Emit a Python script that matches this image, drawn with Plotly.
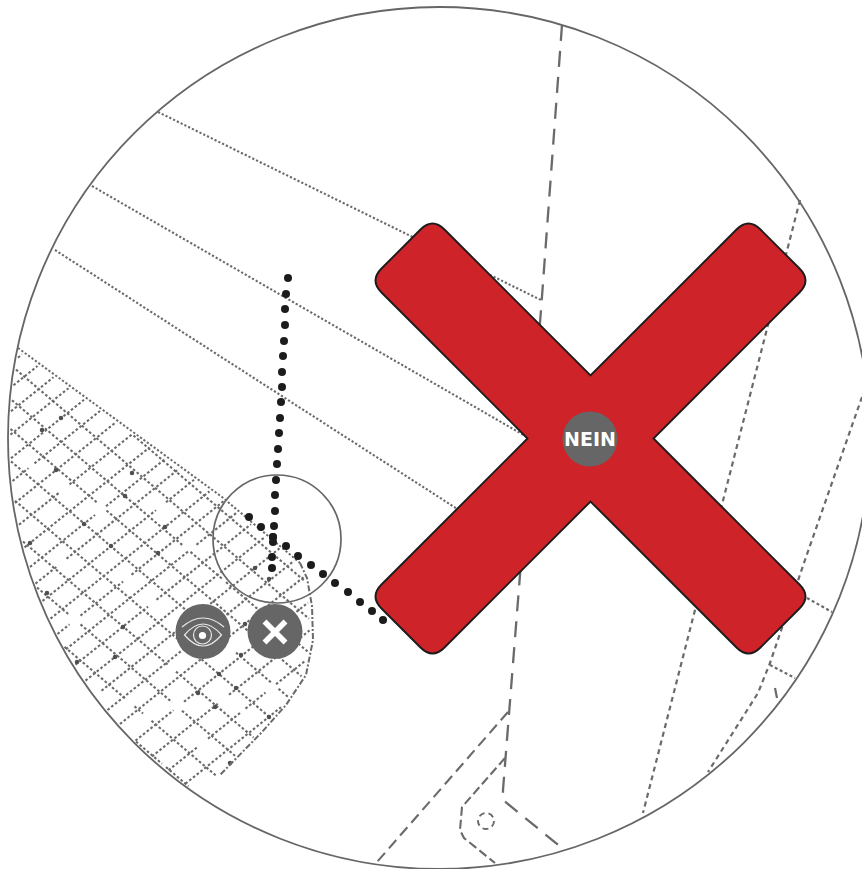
import numpy as np
import plotly.graph_objects as go

W, H = 862, 869
GREY = "#666666"
LINE = "#6a6a6a"
RED = "#cf232a"
INK = "#1c1c1c"

# big frame circle and inner circle (cx, cy, r)
frame = (439, 438, 431)
lens = (277, 539, 64)

# drawing lines, as pixel readings from the picture
dotted_a_x, dotted_a_y = [158, 541], [112, 300]
dotted_b_x, dotted_b_y = [92, 527], [186, 437]
dotted_c_x, dotted_c_y = [55, 462], [250, 512]
dash_main_x, dash_main_y = [562, 541, 520, 507, 503, 503, 562], [25, 310, 575, 745, 790, 800, 848]
dash_b_x, dash_b_y = [508, 377], [712, 862]
dash_c_x, dash_c_y = [505, 462, 460, 464, 495], [758, 807, 830, 838, 863]
right_a_x, right_a_y = [862, 805, 770, 758, 708], [397, 560, 663, 693, 772]
right_b_x, right_b_y = [800, 695, 643], [200, 608, 813]
stub_a_x, stub_a_y = [807, 832], [598, 612]
stub_b_x, stub_b_y = [770, 795], [665, 678]
stub_c_x, stub_c_y = [775, 777], [688, 698]
bolt_x, bolt_y, bolt_r = 486, 821, 8

# hatched field
edge_top_x, edge_top_y = [18, 222, 300], [348, 497, 563]
edge_curve_x = [300, 307, 312, 313, 306, 286, 262, 220]
edge_curve_y = [563, 578, 606, 640, 675, 705, 732, 775]
hatch_slope_down = 0.85
hatch_slope_up = -0.80
hatch_down_offsets = [322, 356, 390, 420, 452, 488, 522, 556, 592, 626, 660]
hatch_up_offsets = [372, 396, 420, 443, 467, 491, 515, 540, 567, 591, 612, 635, 659, 680, 702,
                    725, 749, 772, 796, 820, 849, 878, 905, 932, 955]
hatch_holes_x = [40, 118, 103, 160, 66, 230, 150, 272, 178, 205, 247, 132, 262, 110, 160, 292, 88, 220, 140, 60, 190,
                 75, 35, 100, 125, 205, 240, 175, 95, 145, 285, 225]
hatch_holes_y = [376, 435, 402, 505, 490, 650, 600, 690, 705, 745, 715, 700, 615, 740, 770, 690, 455, 585, 650, 560, 545,
                 620, 470, 510, 575, 625, 750, 665, 690, 720, 640, 700]
hatch_nodes_x = [61, 42, 56, 132, 125, 84, 165, 111, 158, 30, 47, 123, 77, 255, 269, 245, 241, 219, 236, 198, 215, 269, 230, 115]
hatch_nodes_y = [418, 430, 470, 473, 496, 524, 527, 546, 553, 543, 593, 627, 662, 568, 579, 624, 655, 674, 688, 693, 707, 717, 763, 657]

# heavy dots
dots_v_x = [288, 286, 285, 285, 284, 283, 282, 282, 281, 280, 279, 278, 277, 276, 275, 275, 274, 273, 273, 272, 272]
dots_v_y = [278, 294, 309, 325, 341, 356, 372, 387, 402, 418, 433, 449, 464, 480, 495, 511, 526, 537, 542, 557, 568]
dots_d_x = [249, 261, 273, 286, 298, 311, 323, 335, 348, 360, 372, 383]
dots_d_y = [517, 527, 537, 546, 556, 565, 574, 583, 592, 602, 611, 620]

# big cross
cross_cx, cross_cy = 590.5, 438.5
cross_reach, cross_half = 379, 63
cross_corner = 17

# badges
badge_eye = (203, 631.5, 27.5)
badge_close = (275, 631.5, 27.5)
badge_word = (590, 439, 27.5)
word = "NEIN"


def circle_shape(c, **kw):
    cx, cy, r = c
    return dict(type="circle", xref="x", yref="y", x0=cx - r, x1=cx + r, y0=cy - r, y1=cy + r, **kw)


def inside(px, py, poly):
    x = np.asarray(poly)[:, 0]
    y = np.asarray(poly)[:, 1]
    res = np.zeros(len(px), dtype=bool)
    j = len(x) - 1
    for i in range(len(x)):
        cond = ((y[i] > py) != (y[j] > py)) & (px < (x[j] - x[i]) * (py - y[i]) / (y[j] - y[i] + 1e-9) + x[i])
        res ^= cond
        j = i
    return res


# hatch area polygon: inset from top edge and curve, closed along the frame circle
poly = [(x + 4, y + 6) for x, y in zip(edge_top_x, edge_top_y)]
poly += [(x - 3, y) for x, y in zip(edge_curve_x, edge_curve_y)][1:]
a0 = np.arctan2(795 - frame[1], 198 - frame[0])
a1 = np.arctan2(352 - frame[1], 18 - frame[0])
if a0 < 0:
    a0 += 2 * np.pi
if a1 < 0:
    a1 += 2 * np.pi
for t in np.linspace(a0, a1, 40):
    poly.append((frame[0] + (frame[2] - 2) * np.cos(t), frame[1] + (frame[2] - 2) * np.sin(t)))


def hatch_segments(slope, offsets):
    xs, ys = [], []
    hx = np.array(hatch_holes_x, float)
    hy = np.array(hatch_holes_y, float)
    for c in offsets:
        sx = np.arange(0, 330, 0.5)
        sy = slope * sx + c
        keep = inside(sx, sy, poly)
        d = np.min(np.hypot(sx[:, None] - hx, sy[:, None] - hy), axis=1)
        keep &= d > 6.5
        idx = np.where(keep)[0]
        if len(idx) == 0:
            continue
        for run in np.split(idx, np.where(np.diff(idx) > 1)[0] + 1):
            if len(run) < 8:
                continue
            xs += [sx[run[0]], sx[run[-1]], None]
            ys += [sy[run[0]], sy[run[-1]], None]
    return xs, ys


fig = go.Figure()


def stroke(x, y, dash, width=2.0, color=LINE):
    fig.add_trace(go.Scatter(x=x, y=y, mode="lines", hoverinfo="skip",
                             line=dict(color=color, width=width, dash=dash)))


for slope, offs in ((hatch_slope_down, hatch_down_offsets), (hatch_slope_up, hatch_up_offsets)):
    hx_, hy_ = hatch_segments(slope, offs)
    stroke(hx_, hy_, "2.6px,2.2px", 2.1, "#6a6a6a")

fig.add_trace(go.Scatter(x=hatch_nodes_x, y=hatch_nodes_y, mode="markers", hoverinfo="skip",
                         marker=dict(size=4.5, color="#4f4f4f")))
stroke(edge_top_x, edge_top_y, "2.2px,2px", 2.0)
stroke(edge_curve_x, edge_curve_y, "6px,2px,2px,2px", 2.0)

for x, y in ((dotted_a_x, dotted_a_y), (dotted_b_x, dotted_b_y), (dotted_c_x, dotted_c_y)):
    stroke(x, y, "2.2px,2px", 2.1)
stroke(dash_main_x, dash_main_y, "16px,10px", 2.3)
stroke(dash_b_x, dash_b_y, "11px,6px", 2.1)
stroke(dash_c_x, dash_c_y, "9px,4px", 2.1)
for x, y in ((right_a_x, right_a_y), (right_b_x, right_b_y)):
    stroke(x, y, "5px,4px", 2.2)
for x, y in ((stub_a_x, stub_a_y), (stub_b_x, stub_b_y)):
    stroke(x, y, "3px,2.5px", 2.2)
stroke(stub_c_x, stub_c_y, "solid", 2.2)

shapes = [
    circle_shape((bolt_x, bolt_y, bolt_r), line=dict(color=LINE, width=1.9, dash="6px,4px"), layer="below"),
    circle_shape(frame, line=dict(color=GREY, width=1.8), layer="below"),
    circle_shape(lens, line=dict(color=GREY, width=1.7), layer="below"),
]

# heavy dots over the drawing
fig.add_trace(go.Scatter(x=dots_v_x + dots_d_x, y=dots_v_y + dots_d_y, mode="markers", hoverinfo="skip",
                         marker=dict(size=8, color=INK)))

# cross outline: corners in rotated (u = x+y, v = x-y) coordinates around the centre
s, d = cross_cx + cross_cy, cross_cx - cross_cy
R, Hf = cross_reach, cross_half
rot = [(-R, Hf), (-Hf, Hf), (-Hf, R), (Hf, R), (Hf, Hf), (R, Hf), (R, -Hf), (Hf, -Hf), (Hf, -R), (-Hf, -R), (-Hf, -Hf), (-R, -Hf)]
pts = np.array([((s + u + d + v) / 2, (s + u - d - v) / 2) for u, v in rot])
rounded = [0, 2, 3, 5, 6, 8, 9, 11]
path = ""
n = len(pts)
for i in range(n):
    p, prv, nxt = pts[i], pts[i - 1], pts[(i + 1) % n]
    if i in rounded:
        a = p + (prv - p) / np.linalg.norm(prv - p) * cross_corner
        b = p + (nxt - p) / np.linalg.norm(nxt - p) * cross_corner
        path += f"{'M' if i == 0 else 'L'}{a[0]:.1f},{a[1]:.1f} Q{p[0]:.1f},{p[1]:.1f} {b[0]:.1f},{b[1]:.1f} "
    else:
        path += f"L{p[0]:.1f},{p[1]:.1f} "
path += "Z"
shapes.append(dict(type="path", path=path, xref="x", yref="y", fillcolor=RED,
                   line=dict(color=INK, width=1.9), layer="above"))

for b in (badge_eye, badge_close, badge_word):
    shapes.append(circle_shape(b, fillcolor=GREY, line=dict(width=0), layer="above"))

# close glyph
cx, cy = badge_close[0], badge_close[1] + 0.5
for sgn in (1, -1):
    shapes.append(dict(type="line", xref="x", yref="y", x0=cx - 10.5, x1=cx + 10.5, y0=cy - 10.5 * sgn, y1=cy + 10.5 * sgn,
                       line=dict(color="white", width=5.5), layer="above"))

# eye glyph
ex, ey = badge_eye[0], badge_eye[1] + 3.5
shapes += [
    dict(type="path", xref="x", yref="y", layer="above", line=dict(color="#e8e8e8", width=1.2),
         path=f"M{ex - 18.5},{ey} Q{ex},{ey - 22} {ex + 18.5},{ey} Q{ex},{ey + 22} {ex - 18.5},{ey} Z"),
    dict(type="path", xref="x", yref="y", layer="above", line=dict(color="#e8e8e8", width=1.2),
         path=f"M{ex - 21},{ey - 8} Q{ex},{ey - 26} {ex + 21},{ey - 8}"),
    circle_shape((ex - 0.5, ey, 9), line=dict(color="#e8e8e8", width=1.2), layer="above"),
    circle_shape((ex - 0.5, ey + 0.5, 3.6), fillcolor="white", line=dict(width=0), layer="above"),
]

fig.update_layout(
    width=W, height=H, margin=dict(l=0, r=0, t=0, b=0),
    paper_bgcolor="white", plot_bgcolor="white", showlegend=False,
    xaxis=dict(range=[0, W], visible=False, fixedrange=True),
    yaxis=dict(range=[H, 0], visible=False, fixedrange=True),
    shapes=shapes,
    annotations=[dict(x=badge_word[0], y=badge_word[1], xref="x", yref="y", text=f"<b>{word}</b>", showarrow=False,
                      font=dict(family="DejaVu Sans", size=19, color="white"))],
)
fig.write_html("out.html", config=dict(displayModeBar=False), post_script="document.body.style.margin='0';")
